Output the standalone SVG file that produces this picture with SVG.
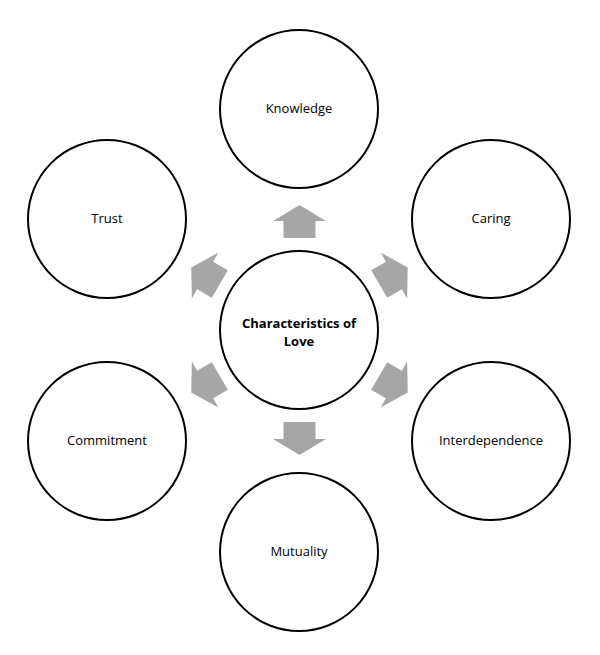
<svg xmlns="http://www.w3.org/2000/svg" width="600" height="655" viewBox="0 0 600 655">
<style>
circle{fill:#fff;stroke:#000;stroke-width:2}
text{font-family:"Open Sans","Liberation Sans",sans-serif;font-size:13px;text-anchor:middle;fill:#000}
.ar{fill:#a6a6a6}
</style>
<defs><polygon id="a" class="ar" points="-16,0 16,0 16,-17 26.5,-17 0,-33 -26.5,-17 -16,-17"/></defs>
<rect width="600" height="655" fill="#fff"/>
<g id="connectors">
<use href="#a" transform="translate(299.5,330) rotate(0) translate(0,-92)"/>
<use href="#a" transform="translate(299.5,330) rotate(60) translate(0,-92)"/>
<use href="#a" transform="translate(299.5,330) rotate(120) translate(0,-92)"/>
<use href="#a" transform="translate(299.5,330) rotate(180) translate(0,-92)"/>
<use href="#a" transform="translate(299.5,330) rotate(240) translate(0,-92)"/>
<use href="#a" transform="translate(299.5,330) rotate(300) translate(0,-92)"/>
</g>
<g id="center"><circle cx="299" cy="330" r="79"/><text x="299" y="328" font-weight="bold">Characteristics of</text><text x="299" y="346" font-weight="bold">Love</text></g>
<g id="knowledge"><circle cx="299" cy="109" r="79"/><text x="299" y="113">Knowledge</text></g>
<g id="caring"><circle cx="491" cy="219" r="79"/><text x="491" y="223">Caring</text></g>
<g id="interdependence"><circle cx="491" cy="441" r="79"/><text x="491" y="445">Interdependence</text></g>
<g id="mutuality"><circle cx="299" cy="552" r="79"/><text x="299" y="556">Mutuality</text></g>
<g id="commitment"><circle cx="107" cy="441" r="79"/><text x="107" y="445">Commitment</text></g>
<g id="trust"><circle cx="107" cy="219" r="79"/><text x="107" y="223">Trust</text></g>
</svg>
